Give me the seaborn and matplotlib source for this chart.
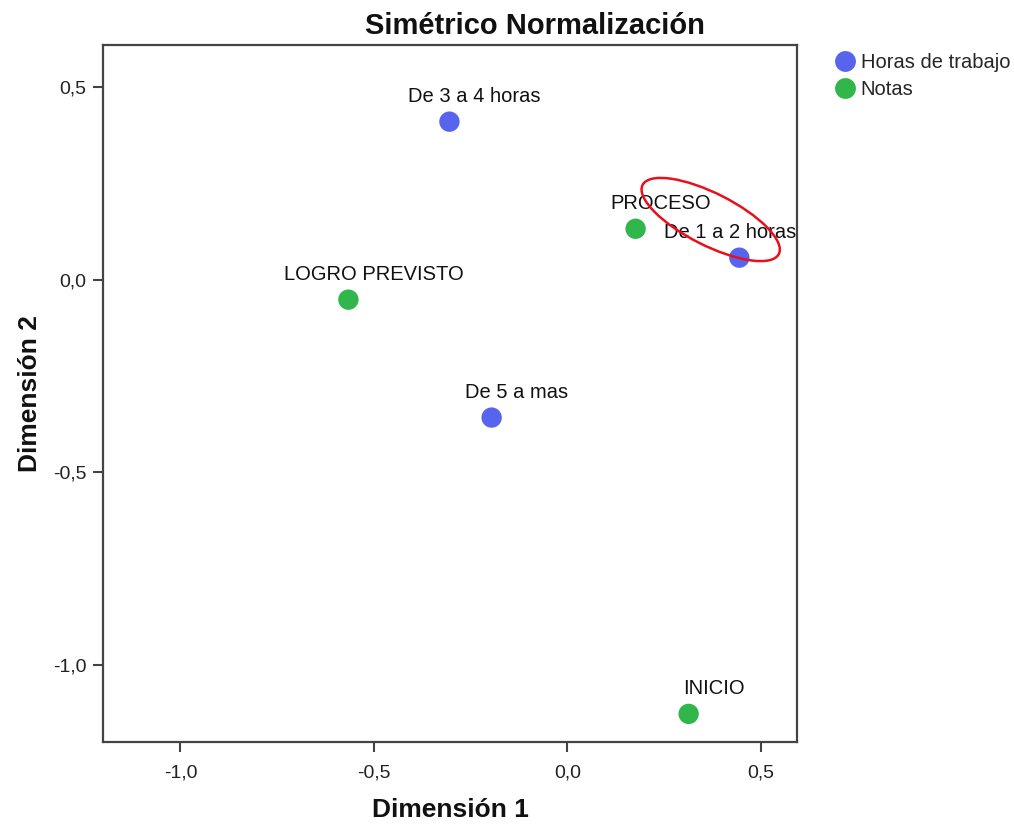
import matplotlib
matplotlib.use("Agg")
import matplotlib.pyplot as plt
from matplotlib.patches import Ellipse
from matplotlib.ticker import FuncFormatter, FixedLocator
from matplotlib.transforms import offset_copy
import pandas as pd
import seaborn as sns

# ── data ──────────────────────────────────────────────────────────────────────
labels = ["De 3 a 4 horas", "De 1 a 2 horas", "De 5 a mas",
          "PROCESO", "LOGRO PREVISTO", "INICIO"]
dim1 = [-0.305, 0.444, -0.196, 0.176, -0.566, 0.313]
dim2 = [0.410, 0.057, -0.358, 0.132, -0.052, -1.127]
groups = ["Horas de trabajo"] * 3 + ["Notas"] * 3
ticks = [-1.0, -0.5, 0.0, 0.5]

PALETTE = {"Horas de trabajo": "#5764EE", "Notas": "#30B64B"}

df = pd.DataFrame({"label": labels, "dim1": dim1, "dim2": dim2, "grupo": groups})

sns.set_theme(style="white")
plt.rcParams["font.family"] = ["Liberation Sans", "DejaVu Sans"]

fig = plt.figure(figsize=(10.14, 8.25), dpi=100)
ax = fig.add_axes([0.1016, 0.1006, 0.6844, 0.8449])

sns.scatterplot(data=df, x="dim1", y="dim2", hue="grupo", palette=PALETTE,
                s=215, edgecolor="none", ax=ax, legend=False, zorder=3)

# label placement in pixels relative to the point (dx, dy, ha)
offsets = {"De 1 a 2 horas": (-75, 25, "left")}
for _, r in df.iterrows():
    dx, dy, ha = offsets.get(r["label"], (25, 25, "center"))
    tr = offset_copy(ax.transData, fig=fig, x=dx, y=dy, units="dots")
    ax.text(r["dim1"], r["dim2"], r["label"], transform=tr, ha=ha, va="center",
            fontsize=14.5, color="#111111", clip_on=True, zorder=4)

# highlight ellipse
ax.add_patch(Ellipse((0.370, 0.156), 0.395, 0.135, angle=-27,
                     fill=False, edgecolor="#E8101A", linewidth=1.8, zorder=5))

ax.set_xlim(-1.2, 0.593)
ax.set_ylim(-1.2, 0.609)
ax.xaxis.set_major_locator(FixedLocator(ticks))
ax.yaxis.set_major_locator(FixedLocator(ticks))
fmt = FuncFormatter(lambda v, p: f"{v:.1f}".replace(".", ",").replace("-0,0", "0,0"))
ax.xaxis.set_major_formatter(fmt)
ax.yaxis.set_major_formatter(fmt)
ax.tick_params(axis="both", which="major", direction="out", length=7, width=1.5,
               color="#444444", labelsize=14, labelcolor="#222222",
               bottom=True, left=True, top=False, right=False, pad=5)
ax.tick_params(axis="x", pad=9)
for sp in ax.spines.values():
    sp.set_color("#444444")
    sp.set_linewidth(1.6)

ax.set_xlabel("Dimensión 1", fontsize=19, fontweight="bold", color="#111111", va="center")
ax.set_ylabel("Dimensión 2", fontsize=19, fontweight="bold", color="#111111", va="center")
ax.xaxis.set_label_coords(0.5, -0.0976)
ax.yaxis.set_label_coords(-0.105, 0.5)

fig.text(0.528, 0.969, "Simétrico Normalización", ha="center", va="center",
         fontsize=21, fontweight="bold", color="#111111")

handles = [plt.Line2D([], [], marker="o", linestyle="", markersize=15,
                      markerfacecolor=PALETTE[g], markeredgecolor="none")
           for g in PALETTE]
fig.legend(handles, list(PALETTE), loc="upper left",
           bbox_to_anchor=(0.823, 0.936), frameon=False, fontsize=14.5,
           handletextpad=0.3, handlelength=1.0, labelspacing=0.42,
           borderaxespad=0, borderpad=0)

fig.savefig("out.png", dpi=100)
